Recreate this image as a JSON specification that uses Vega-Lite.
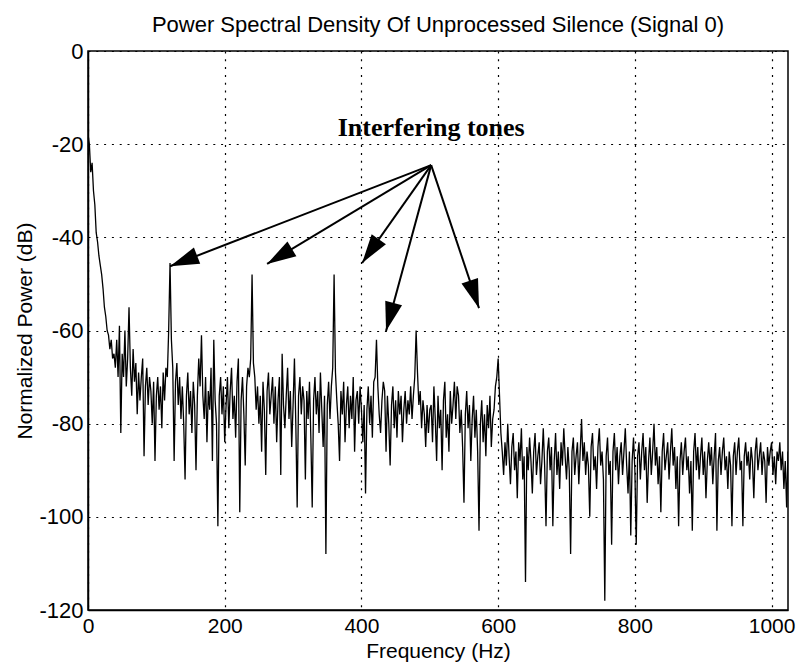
{
"$schema":"https://vega.github.io/schema/vega-lite/v6.json",
"width":700,"height":559,
"autosize":{"type":"none"},
"padding":{"left":88,"top":51,"right":12,"bottom":55},
"background":"white",
"title":{"text":"Power Spectral Density Of Unprocessed Silence (Signal 0)","fontSize":22,"fontWeight":"normal","font":"Liberation Sans","color":"black","offset":3},
"config":{
 "view":{"stroke":"black","strokeWidth":1.5,"fill":"white"},
 "axis":{"domainColor":"black","domainWidth":1.5,"tickSize":0,"grid":true,"gridColor":"black","gridOpacity":1,"gridWidth":1.2,"gridDash":[2,5.8],"labelFont":"Liberation Sans","labelFontSize":22,"labelColor":"black","labelFlush":false,"labelOverlap":false,"labelExpr":"toString(datum.value)","titleFont":"Liberation Sans","titleFontSize":21,"titleFontWeight":"normal","titleColor":"black"},
 "axisX":{"labelPadding":5,"titlePadding":4,"labelFontSize":21,"titleFontSize":21},
 "axisY":{"labelPadding":5,"titlePadding":3}
},
"datasets":{
 "arrows":[
  {"k":1,"f1":502,"p1":-24.5,"f2":120,"p2":-46.2},
  {"k":2,"f1":502,"p1":-24.5,"f2":262,"p2":-45.7},
  {"k":3,"f1":502,"p1":-24.5,"f2":401,"p2":-45.5},
  {"k":4,"f1":502,"p1":-24.5,"f2":436,"p2":-60.1},
  {"k":5,"f1":502,"p1":-24.5,"f2":572,"p2":-55.2}
 ]
},
"layer":[
{"data":{"values":[
{"f":0,"p":-18},{"f":2,"p":-20},{"f":4,"p":-26},{"f":6,"p":-24},{"f":8,"p":-30},{"f":10,"p":-33},{"f":12,"p":-39},{"f":14,"p":-41},{"f":16,"p":-44},{"f":18,"p":-46},{"f":20,"p":-48},{"f":22,"p":-51},{"f":24,"p":-55},{"f":26,"p":-57},{"f":28,"p":-60},{"f":30,"p":-61},{"f":32,"p":-64},{"f":34,"p":-62},{"f":36,"p":-66},{"f":38,"p":-65},
{"f":40,"p":-68},{"f":42,"p":-62},{"f":44,"p":-70},{"f":46,"p":-59},{"f":48,"p":-82},{"f":50,"p":-65},{"f":52,"p":-70},{"f":54,"p":-60},{"f":56,"p":-72},{"f":58,"p":-66},{"f":60,"p":-55},{"f":62,"p":-68},{"f":64,"p":-74},{"f":66,"p":-64},{"f":68,"p":-71},{"f":70,"p":-67},{"f":72,"p":-78},{"f":74,"p":-69},{"f":76,"p":-75},{"f":78,"p":-70},{"f":80,"p":-66},{"f":82,"p":-87},{"f":84,"p":-72},{"f":86,"p":-68},{"f":88,"p":-76},{"f":90,"p":-70},{"f":92,"p":-73},{"f":94,"p":-80},{"f":96,"p":-71},{"f":98,"p":-88},{"f":100,"p":-74},
{"f":102,"p":-70},{"f":104,"p":-77},{"f":106,"p":-72},{"f":108,"p":-81},{"f":110,"p":-69},{"f":112,"p":-75},{"f":114,"p":-68},{"f":116,"p":-70},{"f":118,"p":-60},{"f":120,"p":-45.5},{"f":122,"p":-62},{"f":124,"p":-68},{"f":126,"p":-88},{"f":128,"p":-71},{"f":130,"p":-67},{"f":132,"p":-76},{"f":134,"p":-70},{"f":136,"p":-79},{"f":138,"p":-72},{"f":140,"p":-80},{"f":142,"p":-92},{"f":144,"p":-74},{"f":146,"p":-69},{"f":148,"p":-78},{"f":150,"p":-73},{"f":152,"p":-82},{"f":154,"p":-71},{"f":156,"p":-76},{"f":158,"p":-90},{"f":160,"p":-74},{"f":162,"p":-66},{"f":164,"p":-72},{"f":166,"p":-61},{"f":168,"p":-74},{"f":170,"p":-79},{"f":172,"p":-70},{"f":174,"p":-84},{"f":176,"p":-73},{"f":178,"p":-77},{"f":180,"p":-68},{"f":182,"p":-88},{"f":184,"p":-62},{"f":186,"p":-75},{"f":188,"p":-80},{"f":190,"p":-102},{"f":192,"p":-74},{"f":194,"p":-70},{"f":196,"p":-78},{"f":198,"p":-72},{"f":200,"p":-84},
{"f":202,"p":-76},{"f":204,"p":-70},{"f":206,"p":-81},{"f":208,"p":-73},{"f":210,"p":-68},{"f":212,"p":-79},{"f":214,"p":-74},{"f":216,"p":-83},{"f":218,"p":-71},{"f":220,"p":-66},{"f":222,"p":-99},{"f":224,"p":-75},{"f":226,"p":-70},{"f":228,"p":-78},{"f":230,"p":-89},{"f":232,"p":-72},{"f":234,"p":-68},{"f":236,"p":-70},{"f":238,"p":-66},{"f":240,"p":-48},{"f":242,"p":-67},{"f":244,"p":-70},{"f":246,"p":-77},{"f":248,"p":-72},{"f":250,"p":-80},{"f":252,"p":-74},{"f":254,"p":-86},{"f":256,"p":-71},{"f":258,"p":-77},{"f":260,"p":-91},{"f":262,"p":-73},{"f":264,"p":-69},{"f":266,"p":-78},{"f":268,"p":-74},{"f":270,"p":-70},{"f":272,"p":-80},{"f":274,"p":-72},{"f":276,"p":-84},{"f":278,"p":-75},{"f":280,"p":-70},{"f":282,"p":-91},{"f":284,"p":-65},{"f":286,"p":-76},{"f":288,"p":-81},{"f":290,"p":-74},{"f":292,"p":-68},{"f":294,"p":-79},{"f":296,"p":-73},{"f":298,"p":-85},{"f":300,"p":-76},
{"f":302,"p":-66},{"f":304,"p":-80},{"f":306,"p":-98},{"f":308,"p":-74},{"f":310,"p":-70},{"f":312,"p":-78},{"f":314,"p":-72},{"f":316,"p":-75},{"f":318,"p":-92},{"f":320,"p":-73},{"f":322,"p":-79},{"f":324,"p":-71},{"f":326,"p":-83},{"f":328,"p":-98},{"f":330,"p":-75},{"f":332,"p":-70},{"f":334,"p":-78},{"f":336,"p":-73},{"f":338,"p":-82},{"f":340,"p":-69},{"f":342,"p":-77},{"f":344,"p":-85},{"f":346,"p":-74},{"f":348,"p":-108},{"f":350,"p":-76},{"f":352,"p":-71},{"f":354,"p":-79},{"f":356,"p":-72},{"f":358,"p":-68},{"f":360,"p":-48},{"f":362,"p":-69},{"f":364,"p":-75},{"f":366,"p":-80},{"f":368,"p":-88},{"f":370,"p":-73},{"f":372,"p":-78},{"f":374,"p":-71},{"f":376,"p":-84},{"f":378,"p":-76},{"f":380,"p":-72},{"f":382,"p":-81},{"f":384,"p":-74},{"f":386,"p":-79},{"f":388,"p":-70},{"f":390,"p":-86},{"f":392,"p":-75},{"f":394,"p":-73},{"f":396,"p":-80},{"f":398,"p":-72},{"f":400,"p":-77},
{"f":402,"p":-84},{"f":404,"p":-76},{"f":406,"p":-95},{"f":408,"p":-77},{"f":410,"p":-72},{"f":412,"p":-80},{"f":414,"p":-74},{"f":416,"p":-83},{"f":418,"p":-71},{"f":420,"p":-70},{"f":422,"p":-62},{"f":424,"p":-72},{"f":426,"p":-78},{"f":428,"p":-82},{"f":430,"p":-75},{"f":432,"p":-71},{"f":434,"p":-73},{"f":436,"p":-86},{"f":438,"p":-74},{"f":440,"p":-80},{"f":442,"p":-89},{"f":444,"p":-76},{"f":446,"p":-72},{"f":448,"p":-81},{"f":450,"p":-75},{"f":452,"p":-83},{"f":454,"p":-73},{"f":456,"p":-78},{"f":458,"p":-74},{"f":460,"p":-84},{"f":462,"p":-77},{"f":464,"p":-73},{"f":466,"p":-80},{"f":468,"p":-75},{"f":470,"p":-78},{"f":472,"p":-72},{"f":474,"p":-79},{"f":476,"p":-74},{"f":478,"p":-70},{"f":480,"p":-60},{"f":482,"p":-69},{"f":484,"p":-76},{"f":486,"p":-73},{"f":488,"p":-81},{"f":490,"p":-75},{"f":492,"p":-78},{"f":494,"p":-85},{"f":496,"p":-76},{"f":498,"p":-82},{"f":500,"p":-77},
{"f":502,"p":-76},{"f":504,"p":-84},{"f":506,"p":-72},{"f":508,"p":-79},{"f":510,"p":-88},{"f":512,"p":-74},{"f":514,"p":-81},{"f":516,"p":-77},{"f":518,"p":-90},{"f":520,"p":-75},{"f":522,"p":-71},{"f":524,"p":-83},{"f":526,"p":-78},{"f":528,"p":-86},{"f":530,"p":-73},{"f":532,"p":-80},{"f":534,"p":-76},{"f":536,"p":-71},{"f":538,"p":-79},{"f":540,"p":-72},{"f":542,"p":-74},{"f":544,"p":-82},{"f":546,"p":-77},{"f":548,"p":-85},{"f":550,"p":-97},{"f":552,"p":-78},{"f":554,"p":-73},{"f":556,"p":-81},{"f":558,"p":-76},{"f":560,"p":-88},{"f":562,"p":-79},{"f":564,"p":-74},{"f":566,"p":-83},{"f":568,"p":-77},{"f":570,"p":-86},{"f":572,"p":-103},{"f":574,"p":-80},{"f":576,"p":-75},{"f":578,"p":-84},{"f":580,"p":-78},{"f":582,"p":-87},{"f":584,"p":-76},{"f":586,"p":-81},{"f":588,"p":-74},{"f":590,"p":-85},{"f":592,"p":-79},{"f":594,"p":-77},{"f":596,"p":-72},{"f":598,"p":-70},{"f":600,"p":-66},{"f":602,"p":-74},{"f":604,"p":-82},
{"f":606,"p":-86},{"f":608,"p":-91},{"f":610,"p":-84},{"f":612,"p":-89},{"f":614,"p":-80},{"f":616,"p":-87},{"f":618,"p":-93},{"f":620,"p":-85},{"f":622,"p":-82},{"f":624,"p":-90},{"f":626,"p":-86},{"f":628,"p":-96},{"f":630,"p":-84},{"f":632,"p":-88},{"f":634,"p":-81},{"f":636,"p":-92},{"f":638,"p":-87},{"f":640,"p":-114},{"f":642,"p":-85},{"f":644,"p":-90},{"f":646,"p":-83},{"f":648,"p":-88},{"f":650,"p":-95},{"f":652,"p":-86},{"f":654,"p":-82},{"f":656,"p":-91},{"f":658,"p":-87},{"f":660,"p":-84},{"f":662,"p":-93},{"f":664,"p":-88},{"f":666,"p":-81},{"f":668,"p":-89},{"f":670,"p":-102},{"f":672,"p":-86},{"f":674,"p":-83},{"f":676,"p":-90},{"f":678,"p":-85},{"f":680,"p":-102},{"f":682,"p":-88},{"f":684,"p":-82},{"f":686,"p":-91},{"f":688,"p":-86},{"f":690,"p":-94},{"f":692,"p":-84},{"f":694,"p":-89},{"f":696,"p":-81},{"f":698,"p":-87},{"f":700,"p":-92},
{"f":702,"p":-85},{"f":704,"p":-90},{"f":706,"p":-108},{"f":708,"p":-86},{"f":710,"p":-83},{"f":712,"p":-91},{"f":714,"p":-87},{"f":716,"p":-84},{"f":718,"p":-93},{"f":720,"p":-86},{"f":722,"p":-79},{"f":724,"p":-88},{"f":726,"p":-84},{"f":728,"p":-91},{"f":730,"p":-86},{"f":732,"p":-89},{"f":734,"p":-100},{"f":736,"p":-85},{"f":738,"p":-82},{"f":740,"p":-90},{"f":742,"p":-87},{"f":744,"p":-94},{"f":746,"p":-85},{"f":748,"p":-81},{"f":750,"p":-89},{"f":752,"p":-86},{"f":754,"p":-92},{"f":756,"p":-118},{"f":758,"p":-87},{"f":760,"p":-83},{"f":762,"p":-91},{"f":764,"p":-88},{"f":766,"p":-106},{"f":768,"p":-86},{"f":770,"p":-82},{"f":772,"p":-90},{"f":774,"p":-85},{"f":776,"p":-93},{"f":778,"p":-87},{"f":780,"p":-84},{"f":782,"p":-91},{"f":784,"p":-86},{"f":786,"p":-81},{"f":788,"p":-89},{"f":790,"p":-95},{"f":792,"p":-86},{"f":794,"p":-104},{"f":796,"p":-88},{"f":798,"p":-83},{"f":800,"p":-90},
{"f":802,"p":-106},{"f":804,"p":-87},{"f":806,"p":-84},{"f":808,"p":-92},{"f":810,"p":-86},{"f":812,"p":-82},{"f":814,"p":-90},{"f":816,"p":-85},{"f":818,"p":-97},{"f":820,"p":-88},{"f":822,"p":-83},{"f":824,"p":-91},{"f":826,"p":-86},{"f":828,"p":-80},{"f":830,"p":-89},{"f":832,"p":-85},{"f":834,"p":-93},{"f":836,"p":-87},{"f":838,"p":-99},{"f":840,"p":-86},{"f":842,"p":-82},{"f":844,"p":-90},{"f":846,"p":-87},{"f":848,"p":-84},{"f":850,"p":-92},{"f":852,"p":-86},{"f":854,"p":-81},{"f":856,"p":-89},{"f":858,"p":-85},{"f":860,"p":-94},{"f":862,"p":-87},{"f":864,"p":-102},{"f":866,"p":-88},{"f":868,"p":-84},{"f":870,"p":-91},{"f":872,"p":-86},{"f":874,"p":-83},{"f":876,"p":-90},{"f":878,"p":-87},{"f":880,"p":-95},{"f":882,"p":-88},{"f":884,"p":-103},{"f":886,"p":-86},{"f":888,"p":-82},{"f":890,"p":-90},{"f":892,"p":-85},{"f":894,"p":-92},{"f":896,"p":-87},{"f":898,"p":-83},{"f":900,"p":-91},
{"f":902,"p":-86},{"f":904,"p":-96},{"f":906,"p":-88},{"f":908,"p":-84},{"f":910,"p":-89},{"f":912,"p":-85},{"f":914,"p":-93},{"f":916,"p":-87},{"f":918,"p":-82},{"f":920,"p":-103},{"f":922,"p":-88},{"f":924,"p":-85},{"f":926,"p":-91},{"f":928,"p":-86},{"f":930,"p":-83},{"f":932,"p":-90},{"f":934,"p":-87},{"f":936,"p":-94},{"f":938,"p":-86},{"f":940,"p":-89},{"f":942,"p":-102},{"f":944,"p":-87},{"f":946,"p":-84},{"f":948,"p":-91},{"f":950,"p":-86},{"f":952,"p":-83},{"f":954,"p":-90},{"f":956,"p":-88},{"f":958,"p":-102},{"f":960,"p":-87},{"f":962,"p":-84},{"f":964,"p":-89},{"f":966,"p":-86},{"f":968,"p":-92},{"f":970,"p":-85},{"f":972,"p":-88},{"f":974,"p":-96},{"f":976,"p":-86},{"f":978,"p":-83},{"f":980,"p":-90},{"f":982,"p":-87},{"f":984,"p":-84},{"f":986,"p":-91},{"f":988,"p":-86},{"f":990,"p":-88},{"f":992,"p":-97},{"f":994,"p":-85},{"f":996,"p":-89},{"f":998,"p":-86},{"f":1000,"p":-84},
{"f":1002,"p":-91},{"f":1004,"p":-87},{"f":1006,"p":-93},{"f":1008,"p":-86},{"f":1010,"p":-88},{"f":1012,"p":-84},{"f":1014,"p":-90},{"f":1016,"p":-86},{"f":1018,"p":-94},{"f":1020,"p":-88},{"f":1022,"p":-98},{"f":1024,"p":-86}
]},
 "mark":{"type":"line","color":"black","strokeWidth":1.3,"clip":true},
 "encoding":{
  "x":{"field":"f","type":"quantitative","scale":{"domain":[0,1024],"nice":false,"zero":false},"axis":{"values":[0,200,400,600,800,1000]},"title":"Frequency (Hz)"},
  "y":{"field":"p","type":"quantitative","scale":{"domain":[-120,0],"nice":false},"axis":{"values":[-120,-100,-80,-60,-40,-20,0]},"title":"Normalized Power (dB)"}
 }
},
{"data":{"name":"arrows"},
 "mark":{"type":"rule","color":"black","strokeWidth":2},
 "encoding":{
  "x":{"field":"f1","type":"quantitative","title":"Frequency (Hz)"},
  "y":{"field":"p1","type":"quantitative","title":"Normalized Power (dB)"},
  "x2":{"field":"f2"},
  "y2":{"field":"p2"}
 }
},
{"data":{"name":"arrows"},
 "mark":{"type":"point","filled":true,"color":"black","opacity":1,"size":3364,"strokeWidth":0,"shape":"M0,0 L-0.3,1 L0.3,1 Z"},
 "encoding":{
  "x":{"field":"f2","type":"quantitative","title":"Frequency (Hz)"},
  "y":{"field":"p2","type":"quantitative","title":"Normalized Power (dB)"},
  "angle":{"field":"k","type":"quantitative","scale":{"domain":[1,2,3,4,5],"range":[248.8,238.9,215.1,195.2,161.4]},"legend":null}
 }
},
{"data":{"values":[{"f":502,"p":-18.2,"label":"Interfering tones"}]},
 "mark":{"type":"text","font":"Liberation Serif","fontWeight":"bold","fontSize":26,"baseline":"alphabetic","align":"center","color":"black"},
 "encoding":{
  "x":{"field":"f","type":"quantitative","title":"Frequency (Hz)"},
  "y":{"field":"p","type":"quantitative","title":"Normalized Power (dB)"},
  "text":{"field":"label"}
 }
}
]
}
